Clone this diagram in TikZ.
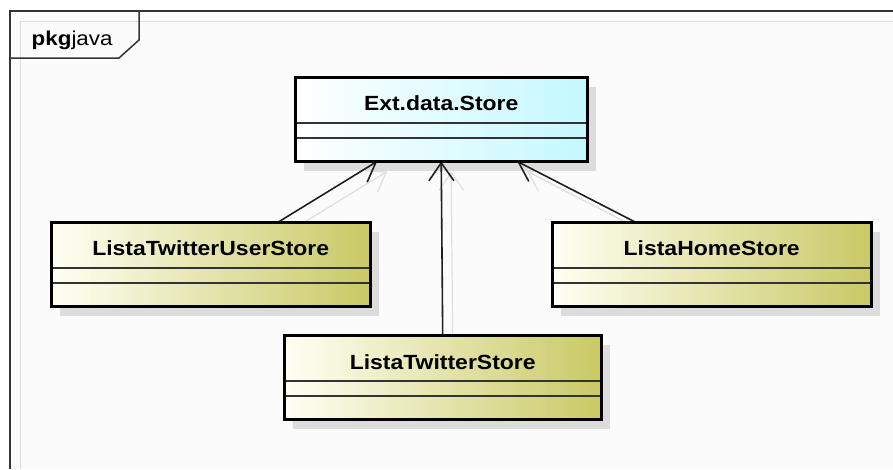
\documentclass[tikz,border=0pt]{standalone}
\usepackage{fontspec}
\setmainfont{Liberation Sans}[FakeStretch=1.12]
\usetikzlibrary{arrows.meta,calc}
\pgfdeclarelayer{background}
\pgfdeclarelayer{foreground}
\pgfsetlayers{background,main,foreground}
\definecolor{framebg}{HTML}{FBFBFB}
\definecolor{frameline}{HTML}{333333}
\definecolor{innerline}{HTML}{DDDDDD}
\definecolor{shadowgray}{HTML}{DCDCDC}
\definecolor{storecyan}{HTML}{C4F8FF}
\definecolor{olive}{HTML}{C9C966}
\definecolor{paleyellow}{HTML}{FFFFF4}
\tikzset{
  classfill/.style={rectangle, inner sep=0pt, minimum width=#1, minimum height=84pt, anchor=north west},
  yellowbox/.style={left color=paleyellow, right color=olive},
  cyanbox/.style={left color=white, right color=storecyan},
  classname/.style={font=\fontsize{20.5}{24}\selectfont\bfseries, anchor=base, inner sep=0pt},
  boxborder/.style={draw=black, line width=3pt},
  sepline/.style={draw=black!80, line width=1.5pt},
  boxshadow/.style={fill=shadowgray},
  gen/.style={draw=black!88, line width=1.6pt, -{Straight Barb[length=18pt,width=25pt]}},
  genshadow/.style={draw=black!13, line width=1.2pt, -{Straight Barb[length=18pt,width=25pt]}},
}
\begin{document}
\begin{tikzpicture}[x=1pt,y=-1pt]
\useasboundingbox (0,0) rectangle (893,469);
% class fills
\node[classfill=292pt, cyanbox] (store) at (295,77) {};
\node[classfill=319pt, yellowbox] (ltus) at (51,222) {};
\node[classfill=319pt, yellowbox] (lhs) at (552,222) {};
\node[classfill=317pt, yellowbox] (lts) at (284,335) {};
\begin{pgfonlayer}{background}
  \fill[white] (0,0) rectangle (893,469);
  \fill[framebg] (10,11) rectangle (893,469);
  \draw[innerline, line width=1pt] (20,469) -- (20,21) -- (893,21);
  \draw[frameline, line width=1.5pt] (10,469) -- (10,11) -- (893,11);
  \draw[frameline, line width=1.5pt] (139,11) -- (139,40) -- (119,58) -- (10,58);
  \foreach \n in {store,ltus,lhs,lts}{
    \fill[boxshadow] ($(\n.north west)+(9,10)$) rectangle ($(\n.south east)+(9,10)$);
  }
  % shadow connectors
  \draw[genshadow] ($(ltus.north west)!0.712!(ltus.north east)+(10,10)$) -- ($(store.south west)!0.281!(store.south east)+(10,10)$);
  \draw[genshadow] ($(lts.north)+(10,10)$) -- ($(store.south)+(10,10)$);
  \draw[genshadow] ($(lhs.north west)!0.26!(lhs.north east)+(10,10)$) -- ($(store.south west)!0.76!(store.south east)+(10,10)$);
  % connectors
  \draw[gen] ($(ltus.north west)!0.712!(ltus.north east)$) -- ($(store.south west)!0.281!(store.south east)$);
  \draw[gen] (lts.north) -- (store.south);
  \draw[gen] ($(lhs.north west)!0.26!(lhs.north east)$) -- ($(store.south west)!0.76!(store.south east)$);
\end{pgfonlayer}
\node[anchor=base west, inner sep=0pt, font=\fontsize{20}{24}\selectfont] (pkgtab) at (31.5,45.5) {\textbf{pkg}java};
% separator lines
\foreach \n in {store,ltus,lhs,lts}{
  \draw[sepline] ($(\n.north west)+(0,46)$) -- ($(\n.north east)+(0,46)$);
  \draw[sepline] ($(\n.north west)+(0,61)$) -- ($(\n.north east)+(0,61)$);
}
% labels
\node[classname] (storelbl) at ($(store.north)+(0,33.5)$) {Ext.data.Store};
\node[classname] (ltuslbl) at ($(ltus.north)+(0,33.5)$) {ListaTwitterUserStore};
\node[classname] (lhslbl) at ($(lhs.north)+(0,33.5)$) {ListaHomeStore};
\node[classname] (ltslbl) at ($(lts.north)+(0,34.5)$) {ListaTwitterStore};
\begin{pgfonlayer}{foreground}
  \foreach \n in {store,ltus,lhs,lts}{
    \draw[boxborder] (\n.north west) rectangle (\n.south east);
  }
\end{pgfonlayer}
\end{tikzpicture}
\end{document}
